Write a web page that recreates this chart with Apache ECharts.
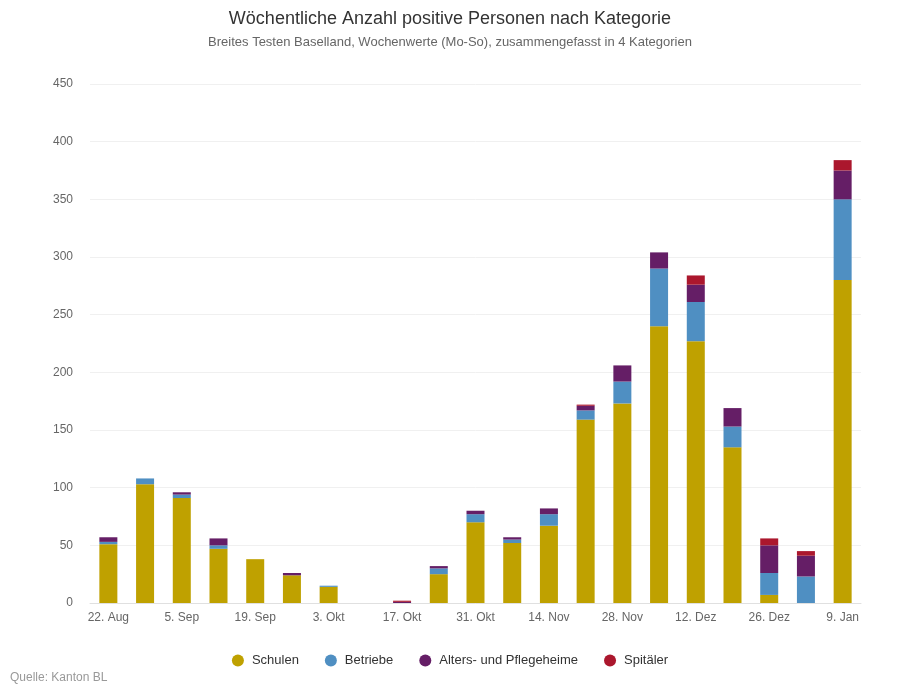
<!DOCTYPE html>
<html>
<head>
<meta charset="utf-8">
<script src="https://cdn.jsdelivr.net/npm/echarts@6/dist/echarts.min.js"></script>
<style>
  html, body { margin: 0; padding: 0; background: #fff; }
  #chart { width: 900px; height: 687px; }
</style>
</head>
<body>
<div id="chart"></div>
<script>
// Wochen (Montag)
var weeks = ["22. Aug", "29. Aug", "5. Sep", "12. Sep", "19. Sep", "26. Sep", "3. Okt",
  "10. Okt", "17. Okt", "24. Okt", "31. Okt", "7. Nov", "14. Nov", "21. Nov", "28. Nov",
  "5. Dez", "12. Dez", "19. Dez", "26. Dez", "2. Jan", "9. Jan"];

var schulen   = [51, 103, 91, 47, 38, 24, 14, 0, 0, 25, 70, 52, 67, 159, 173, 240, 227, 135, 7, 0, 280];
var betriebe  = [2, 5, 3, 3, 0, 0, 1, 0, 0, 5, 7, 3, 10, 8, 19, 50, 34, 18, 19, 23, 70];
var altersheime = [4, 0, 2, 6, 0, 2, 0, 0, 1, 2, 3, 2, 5, 4, 14, 14, 15, 16, 24, 18, 25];
var spitaeler = [0, 0, 0, 0, 0, 0, 0, 0, 1, 0, 0, 0, 0, 1, 0, 0, 8, 0, 6, 4, 9];

var yTicks = [0, 50, 100, 150, 200, 250, 300, 350, 400, 450];

var font = "Liberation Sans, Arial, sans-serif";
var chart = echarts.init(document.getElementById("chart"));

function bar(name, data, color) {
  return {
    name: name,
    type: "bar",
    stack: "total",
    data: data,
    barWidth: 18,
    itemStyle: { color: color },
    emphasis: { disabled: true },
    animation: false
  };
}

var option = {
  backgroundColor: "#fff",
  title: [
    {
      text: "Wöchentliche Anzahl positive Personen nach Kategorie",
      subtext: "Breites Testen Baselland, Wochenwerte (Mo-So), zusammengefasst in 4 Kategorien",
      left: "center",
      top: 5,
      itemGap: 8,
      textStyle: { fontFamily: font, fontSize: 18, fontWeight: "normal", color: "#333" },
      subtextStyle: { fontFamily: font, fontSize: 13, color: "#666" }
    },
    {
      text: "Quelle: Kanton BL",
      left: 10,
      bottom: 3,
      padding: 0,
      textStyle: { fontFamily: font, fontSize: 12, fontWeight: "normal", color: "#999" }
    }
  ],
  legend: {
    bottom: 15,
    left: "center",
    icon: "circle",
    itemWidth: 12,
    itemHeight: 12,
    itemGap: 26,
    textStyle: { fontFamily: font, fontSize: 13, color: "#333", padding: [0, 0, 0, 3] },
    data: ["Schulen", "Betriebe", "Alters- und Pflegeheime", "Spitäler"]
  },
  grid: { left: 90, right: 39, top: 84, bottom: 84 },
  xAxis: {
    type: "category",
    data: weeks,
    axisTick: { show: false },
    axisLine: { lineStyle: { color: "#e0e0e0" } },
    axisLabel: { interval: 1, color: "#666", fontFamily: font, fontSize: 12, margin: 9 }
  },
  yAxis: {
    type: "value",
    min: yTicks[0],
    max: yTicks[yTicks.length - 1],
    interval: 50,
    axisLine: { show: false },
    axisTick: { show: false },
    splitLine: { lineStyle: { color: "#f0f0f0" } },
    axisLabel: { color: "#666", fontFamily: font, fontSize: 12, margin: 17 }
  },
  series: [
    bar("Schulen", schulen, "#bfa100"),
    bar("Betriebe", betriebe, "#4f8fc2"),
    bar("Alters- und Pflegeheime", altersheime, "#651e66"),
    bar("Spitäler", spitaeler, "#ab172d")
  ]
};
chart.setOption(option);
</script>
</body>
</html>
